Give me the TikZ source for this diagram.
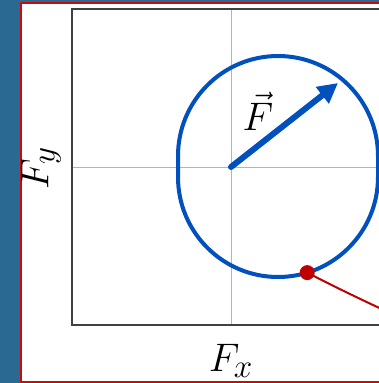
\documentclass[tikz,border=0pt]{standalone}
\usetikzlibrary{arrows.meta,calc}
\definecolor{fondo}{HTML}{2A6A92}
\definecolor{borde}{HTML}{CC0A0A}
\definecolor{azul}{HTML}{0050BE}
\definecolor{rojo}{HTML}{C00000}
\definecolor{guiagris}{HTML}{B4B4B4}
\definecolor{marco}{HTML}{404040}
\begin{document}
\begin{tikzpicture}[
  x=1pt, y=-1pt,
  lbl/.style={font=\Huge, scale=1.6, inner sep=0pt},
  curva/.style={line width=4pt, draw=azul},
  vector/.style={line width=6pt, draw=azul, line cap=round, -{Triangle[length=20pt,width=20pt]}},
  guia/.style={line width=1pt, draw=guiagris},
  traza/.style={line width=2pt, draw=rojo}
]
  \useasboundingbox (0,0) rectangle (379,383);

  % Fondo y panel
  \fill[fondo] (0,0) rectangle (379,383);
  \filldraw[fill=white, draw=borde, line width=2pt] (21,3) rectangle (420,381.5);

  % Ejes
  \coordinate (o) at (231,167);
  \draw[guia] (231,9) -- (231,325);
  \draw[guia] (72,167) -- (420,167);
  \draw[marco, line width=2pt] (72,9) rectangle (420,325);

  % Contorno
  \draw[curva] (178,156) arc[start angle=180, end angle=360, radius=100]
    -- (378,177) arc[start angle=0, end angle=180, radius=100] -- cycle;

  % Vector
  \coordinate (p) at (338,83);
  \draw[vector] (o) -- (p);

  % Trayectoria
  \coordinate (q) at ($(278,177)+(73:100)$);
  \coordinate (fin) at (388,312);
  \draw[traza] (q) .. controls (335,287) and (360,299) .. (fin);
  \fill[rojo] (q) circle (7.5);

  % Etiquetas
  \node[lbl] (fx) at (231,361) {$F_x$};
  \node[lbl, rotate=90] (fy) at (41,168) {$F_y$};
  \node[lbl] (fv) at (258,111) {$\vec{F}$};
\end{tikzpicture}
\end{document}
